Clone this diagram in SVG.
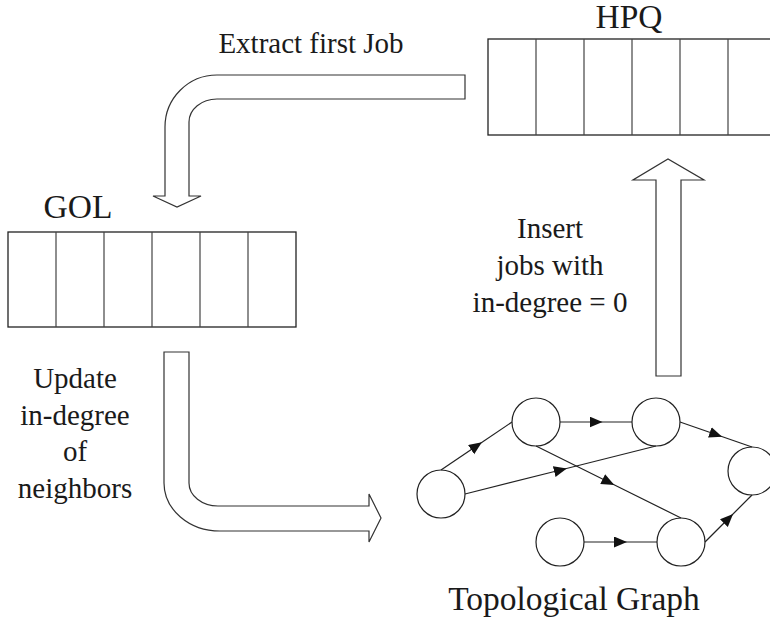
<svg xmlns="http://www.w3.org/2000/svg" width="770" height="624" viewBox="0 0 770 624">
  <style>
    text { font-family: 'Liberation Serif', 'Times New Roman', serif; fill: #1a1a1a; text-anchor: middle; }
    .lbl { font-size: 33.5px; }
    .note { font-size: 29px; }
    .queue { fill: #fff; stroke: #222; stroke-width: 1.3; }
    .cell { stroke: #444; stroke-width: 1.2; }
    .flow { fill: #fff; stroke: #333; stroke-width: 1.2; stroke-linejoin: miter; }
    .node { fill: #fff; stroke: #222; stroke-width: 1.2; }
    .edge { fill: none; stroke: #222; stroke-width: 1.2; marker-mid: url(#tri); }
  </style>
  <defs>
    <marker id="tri" markerUnits="userSpaceOnUse" markerWidth="14" markerHeight="12" refX="6.5" refY="5.5" orient="auto">
      <path d="M0,0 L13,5.5 L0,11 z" fill="#111"/>
    </marker>
  </defs>

  <rect width="770" height="624" fill="#fff"/>

  <!-- HPQ queue -->
  <g id="hpq">
    <text class="lbl" x="629" y="28">HPQ</text>
    <rect class="queue" x="488" y="39" width="288" height="96"/>
    <path class="cell" d="M536,39V135M584,39V135M632,39V135M680,39V135M728,39V135"/>
  </g>

  <!-- GOL queue -->
  <g id="gol">
    <text class="lbl" x="78" y="218">GOL</text>
    <rect class="queue" x="8" y="232" width="288" height="95"/>
    <path class="cell" d="M56,232V327M104,232V327M152,232V327M200,232V327M248,232V327"/>
  </g>

  <!-- topological graph nodes -->
  <g id="node-a"><circle class="node" cx="441" cy="494" r="24"/></g>
  <g id="node-b"><circle class="node" cx="536" cy="422" r="24"/></g>
  <g id="node-c"><circle class="node" cx="656" cy="422" r="24"/></g>
  <g id="node-d"><circle class="node" cx="752" cy="471" r="24"/></g>
  <g id="node-e"><circle class="node" cx="560" cy="542" r="24"/></g>
  <g id="node-f"><circle class="node" cx="681" cy="542" r="24"/></g>

  <g id="graph-label">
    <text class="lbl" x="574" y="610">Topological Graph</text>
  </g>

  <!-- connectors -->
  <g id="connectors">
    <!-- block arrows between stages -->
    <path class="flow" d="M465,75 H217 A52,52 0 0 0 165,127 V196 H153 L177,207 L201,196 H189 V122 A28,23 0 0 1 217,99 H465 Z"/>
    <path class="flow" d="M164,352 H189 V483 A29,23 0 0 0 218,506 H369 V494 L381,518 L369,542 V531 H220 A56,48 0 0 1 164,483 Z"/>
    <path class="flow" d="M656,376 V180 H633 L668,159 L704,180 H681 V376 Z"/>

    <!-- graph edges, arrowhead at midpoint -->
    <path class="edge" d="M441,470 L476.5,446 L512,422"/>
    <path class="edge" d="M560,422 L596,422 L632,422"/>
    <path class="edge" d="M680,422 L716,434.5 L752,447"/>
    <path class="edge" d="M465,494 L560.5,470 L656,446"/>
    <path class="edge" d="M536,446 L608.5,482 L681,518"/>
    <path class="edge" d="M584,542 L620.5,542 L657,542"/>
    <path class="edge" d="M705,542 L728.5,518.5 L752,495"/>

    <!-- connector labels -->
    <text class="note" x="311" y="53">Extract first Job</text>
    <text class="note" x="550" y="238">Insert</text>
    <text class="note" x="550" y="275">jobs with</text>
    <text class="note" x="550" y="312">in-degree = 0</text>
    <text class="note" x="75" y="388">Update</text>
    <text class="note" x="75" y="425">in-degree</text>
    <text class="note" x="75" y="461">of</text>
    <text class="note" x="75" y="498">neighbors</text>
  </g>
</svg>
